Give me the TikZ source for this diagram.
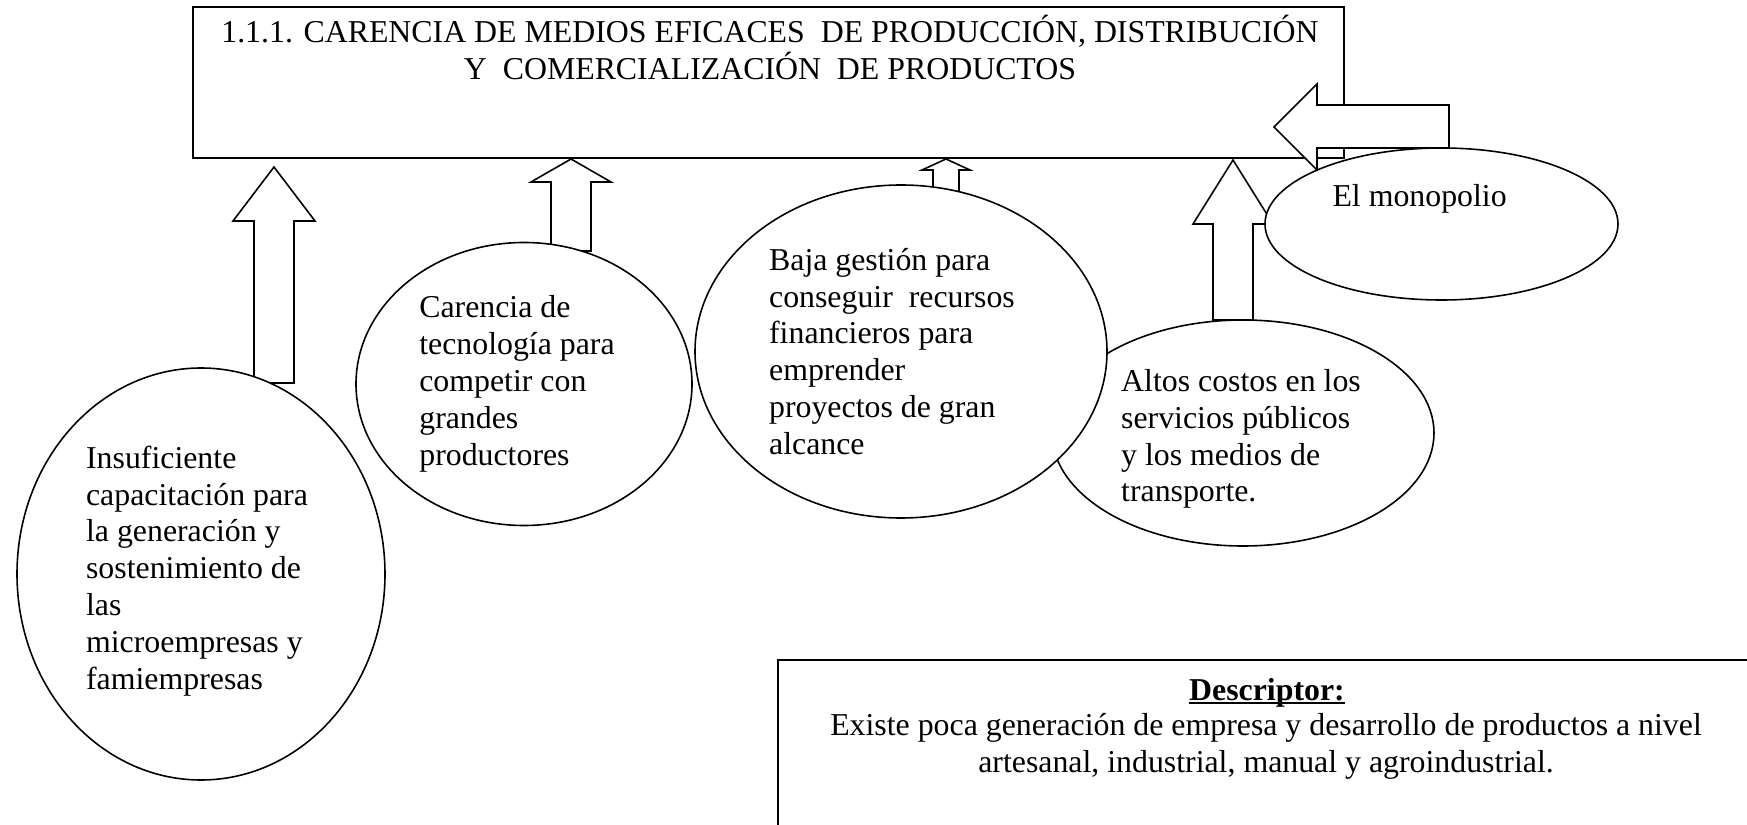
\documentclass[tikz,border=0pt]{standalone}
\usepackage{fontspec}
\setmainfont{Liberation Serif}
\usepackage{tikz}
\usetikzlibrary{shapes.geometric}

\def\px{0.377pt}
\tikzset{
  causa/.style={draw, ellipse, fill=white, line width=0.6pt, inner sep=0pt},
  causatxt/.style={align=left, inner sep=0pt},
  bloque/.style={draw, fill=white, line width=0.6pt, line join=miter},
  caja/.style={draw, line width=0.8pt, inner sep=0pt},
  texto/.style={anchor=base, inner sep=0pt}
}

\begin{document}
\begin{tikzpicture}[x=\px, y=-\px, font=\fontsize{12}{13.9}\selectfont]
  \clip (0,0) rectangle (1747,825);
  \fill[white] (0,0) rectangle (1747,825);

  % problema central
  \node[caja, minimum width=1151*\px, minimum height=151*\px] (problema) at (768.5,82.5) {};
  \node[texto] (prob1) at (770,43) {1.1.1. CARENCIA DE MEDIOS EFICACES \ DE PRODUCCIÓN, DISTRIBUCIÓN};
  \node[texto] (prob2) at (770,80) {Y \ COMERCIALIZACIÓN \ DE PRODUCTOS};

  % flechas de bloque
  \draw[bloque] (274,167) -- (315,221) -- (294,221) -- (294,383) -- (254,383) -- (254,221) -- (233,221) -- cycle;
  \draw[bloque] (571,159) -- (611,182) -- (591,182) -- (591,251) -- (551,251) -- (551,182) -- (531,182) -- cycle;
  \draw[bloque] (946,159) -- (970,170) -- (959,170) -- (959,202) -- (933,202) -- (933,170) -- (922,170) -- cycle;
  \draw[bloque] (1233,160) -- (1273,224) -- (1253,224) -- (1253,320) -- (1213,320) -- (1213,224) -- (1193,224) -- cycle;
  \draw[bloque] (1274,127) -- (1317,84) -- (1317,105) -- (1449,105) -- (1449,148) -- (1317,148) -- (1317,170) -- cycle;

  % causas
  \node[causa, minimum width=382*\px, minimum height=226*\px] (costos) at (1243,433) {};
  \node[causatxt] (costos-txt) at ([xshift=-2*\px, yshift=-6*\px]costos.center)
    {Altos costos en los\\servicios públicos\\y los medios de\\transporte.};
  \node[causa, minimum width=412*\px, minimum height=333*\px] (gestion) at (901,351.5) {};
  \node[causatxt] (gestion-txt) at ([xshift=-9*\px]gestion.center)
    {Baja gestión para\\conseguir \ recursos\\financieros para\\emprender\\proyectos de gran\\alcance};
  \node[causa, minimum width=368*\px, minimum height=412*\px] (capacitacion) at (201,574) {};
  \node[causatxt] (capacitacion-txt) at ([xshift=-4*\px, yshift=3*\px]capacitacion.center)
    {Insuficiente\\capacitación para\\la generación y\\sostenimiento de\\las\\microempresas y\\famiempresas};
  \node[causa, minimum width=336*\px, minimum height=283*\px] (tecnologia) at (524,384) {};
  \node[causatxt] (tecnologia-txt) at ([xshift=-7*\px]tecnologia.center)
    {Carencia de\\tecnología para\\competir con\\grandes\\productores};
  \node[causa, minimum width=353*\px, minimum height=152*\px] (monopolio) at (1441.5,224) {};
  \node[texto, anchor=base west] (monopolio-txt) at (1332,207) {El monopolio};

  % descriptor
  \node[caja, anchor=north west, minimum width=980*\px, minimum height=200*\px] (descriptor) at (777,659) {};
  \node[texto] (desc0) at (1267,700) {\textbf{Descriptor:}};
  \draw[line width=0.8pt] ([yshift=-3*\px]desc0.base west) -- ([yshift=-3*\px]desc0.base east);
  \node[texto] (desc1) at (1266,735) {Existe poca generación de empresa y desarrollo de productos a nivel};
  \node[texto] (desc2) at (1266,772) {artesanal, industrial, manual y agroindustrial.};
\end{tikzpicture}
\end{document}
